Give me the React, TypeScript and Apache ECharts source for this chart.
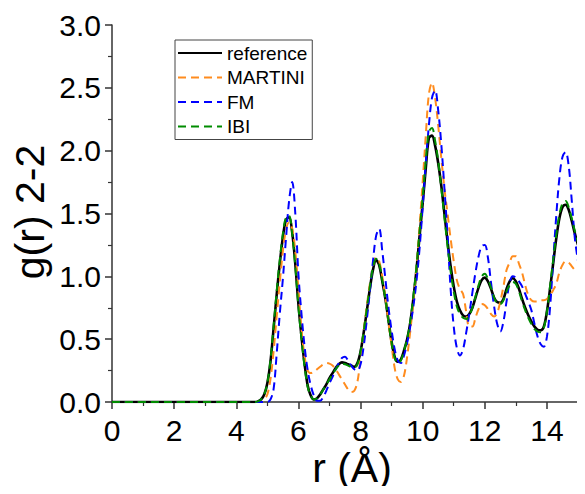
import React, { useEffect, useRef } from "react";
import * as echarts from "echarts";

// r grid: 0, then 4.5 .. 15.0 step 0.1
const rStart = 4.5;
const rGrid: number[] = Array.from({ length: 106 }, (_, i) => +(rStart + i * 0.1).toFixed(1));

const gReference = [
  0, 0, 0.005, 0.02, 0.06, 0.15, 0.32, 0.58, 0.85, 1.1,
  1.31, 1.45, 1.47, 1.35, 1.1, 0.78, 0.52, 0.3, 0.13, 0.05,
  0.02, 0.03, 0.06, 0.1, 0.14, 0.19, 0.23, 0.27, 0.3, 0.315,
  0.31, 0.3, 0.29, 0.28, 0.31, 0.4, 0.55, 0.72, 0.9, 1.05,
  1.13, 1.09, 0.96, 0.82, 0.65, 0.48, 0.36, 0.32, 0.34, 0.41,
  0.5, 0.63, 0.82, 1.05, 1.32, 1.58, 1.86, 2.1, 2.12, 2.04,
  1.9, 1.72, 1.5, 1.28, 1.08, 0.92, 0.8, 0.73, 0.69, 0.68,
  0.7, 0.75, 0.83, 0.91, 0.97, 0.99, 0.96, 0.9, 0.83, 0.795,
  0.79, 0.82, 0.9, 0.96, 0.985, 0.96, 0.9, 0.82, 0.75, 0.69,
  0.64, 0.6, 0.575, 0.57, 0.6, 0.72, 0.9, 1.1, 1.3, 1.46,
  1.55, 1.57, 1.53, 1.44, 1.34, 1.25,
];

const gMartini = [
  0, 0, 0, 0, 0.02, 0.06, 0.18, 0.4, 0.68, 0.95,
  1.2, 1.37, 1.43, 1.38, 1.2, 0.9, 0.58, 0.36, 0.25, 0.23,
  0.24, 0.26, 0.28, 0.3, 0.31, 0.305, 0.29, 0.26, 0.22, 0.18,
  0.14, 0.1, 0.08, 0.09, 0.16, 0.35, 0.56, 0.76, 0.94, 1.08,
  1.15, 1.12, 1.0, 0.83, 0.63, 0.45, 0.27, 0.18, 0.16, 0.21,
  0.36, 0.56, 0.8, 1.07, 1.4, 1.75, 2.12, 2.45, 2.54, 2.42,
  2.2, 1.94, 1.7, 1.5, 1.3, 1.12, 0.97, 0.9, 0.86, 0.72,
  0.6, 0.6, 0.67, 0.74, 0.78, 0.77, 0.74, 0.7, 0.68, 0.71,
  0.8, 0.92, 1.05, 1.11, 1.16, 1.16, 1.1, 1.03, 0.93, 0.85,
  0.81, 0.8, 0.8, 0.81, 0.81, 0.82, 0.85, 0.89, 0.94, 1.03,
  1.09, 1.12, 1.11, 1.08, 1.05, 1.03,
];

const gFM = [
  0, 0, 0, 0, 0, 0, 0.02, 0.1, 0.38, 0.7,
  0.98, 1.3, 1.6, 1.75, 1.5, 1.02, 0.7, 0.44, 0.25, 0.13,
  0.05, 0.01, 0.01, 0.04, 0.09, 0.15, 0.2, 0.26, 0.31, 0.35,
  0.36, 0.33, 0.29, 0.26, 0.25, 0.3, 0.44, 0.65, 0.88, 1.12,
  1.32, 1.38, 1.2, 0.98, 0.75, 0.57, 0.42, 0.33, 0.31, 0.37,
  0.47, 0.6, 0.76, 0.96, 1.22, 1.55, 1.9, 2.2, 2.42, 2.48,
  2.32, 2.05, 1.7, 1.33, 0.9, 0.6, 0.43, 0.37, 0.42, 0.55,
  0.7, 0.87, 1.03, 1.16, 1.24, 1.25, 1.15, 0.95, 0.76, 0.62,
  0.56, 0.64, 0.8, 0.95, 1.0, 0.99, 0.96, 0.92, 0.86, 0.8,
  0.73, 0.62, 0.52, 0.46, 0.44, 0.52, 0.75, 1.12, 1.48, 1.78,
  1.95, 1.99, 1.88, 1.6, 1.3, 1.12,
];

const gIBI = [
  0, 0, 0.005, 0.02, 0.06, 0.15, 0.33, 0.6, 0.88, 1.13,
  1.34, 1.47, 1.48, 1.34, 1.08, 0.76, 0.5, 0.28, 0.12, 0.05,
  0.02, 0.03, 0.06, 0.1, 0.14, 0.18, 0.22, 0.26, 0.29, 0.305,
  0.3, 0.29, 0.28, 0.275, 0.3, 0.4, 0.56, 0.74, 0.92, 1.07,
  1.14, 1.1, 0.97, 0.82, 0.64, 0.47, 0.35, 0.31, 0.33, 0.41,
  0.5, 0.64, 0.84, 1.08, 1.36, 1.63, 1.92, 2.15, 2.18, 2.08,
  1.92, 1.7, 1.47, 1.24, 1.04, 0.88, 0.76, 0.7, 0.67, 0.66,
  0.69, 0.75, 0.84, 0.93, 1.0, 1.02, 0.98, 0.91, 0.83, 0.785,
  0.78, 0.81, 0.88, 0.93, 0.955, 0.94, 0.88, 0.8, 0.73, 0.67,
  0.62, 0.58, 0.56, 0.555, 0.59, 0.72, 0.92, 1.13, 1.33, 1.49,
  1.58, 1.6, 1.55, 1.46, 1.36, 1.27,
];

const seriesNames = ["reference", "MARTINI", "FM", "IBI"];
const seriesColors = ["#000000", "#FF8C1E", "#0000FF", "#008C00"];
const xTickLabels = ["0", "2", "4", "6", "8", "10", "12", "14"];

const FONT = "'Liberation Sans', Arial, Helvetica, sans-serif";

function toPairs(vals: number[]): [number, number][] {
  const pts: [number, number][] = [[0, 0]];
  vals.forEach((v, i) => pts.push([rGrid[i], v]));
  return pts;
}

export default function App() {
  const ref = useRef<HTMLDivElement>(null);
  useEffect(() => {
    if (!ref.current) return;
    const chart = echarts.init(ref.current, undefined, { renderer: "svg" });
    const allVals = [gReference, gMartini, gFM, gIBI];
    const series = allVals.map((vals, i) => ({
      name: seriesNames[i],
      type: "line",
      data: toPairs(vals),
      showSymbol: false,
      symbol: "none",
      smooth: 0.35,
      lineStyle: {
        color: seriesColors[i],
        width: i === 0 ? 2.6 : 2,
        type: i === 0 ? "solid" : [8, 5],
      },
      itemStyle: { color: seriesColors[i] },
      z: i === 0 ? 2 : 3,
    }));
    chart.setOption({
      animation: false,
      backgroundColor: "#ffffff",
      grid: { left: 112, right: 7, top: 25, bottom: 92, containLabel: false },
      legend: {
        data: seriesNames,
        orient: "vertical",
        left: 175,
        top: 40,
        itemWidth: 44,
        itemHeight: 14,
        itemGap: 4.5,
        padding: [3, 5, 3, 2],
        borderColor: "#444",
        borderWidth: 1,
        itemStyle: { color: "rgba(0,0,0,0)", borderColor: "rgba(0,0,0,0)", borderWidth: 0 },
        textStyle: { fontSize: 19, fontFamily: FONT, color: "#000", lineHeight: 20 },
      },
      xAxis: {
        type: "value",
        min: 0,
        max: 15,
        interval: 2,
        splitLine: { show: false },
        axisLine: { show: true, onZero: false, lineStyle: { color: "#333", width: 1.5 } },
        axisTick: { show: true, inside: false, length: 7, lineStyle: { color: "#333", width: 1.5 } },
        minorTick: { show: true, splitNumber: 2, length: 4, lineStyle: { color: "#333", width: 1.2 } },
        axisLabel: {
          fontSize: 30,
          fontFamily: FONT,
          color: "#000",
          margin: 13,
          formatter: (v: number) => {
            const idx = Math.round(v / 2);
            return v % 2 === 0 && idx < xTickLabels.length ? xTickLabels[idx] : "";
          },
        },
      },
      yAxis: {
        type: "value",
        min: 0,
        max: 3,
        interval: 0.5,
        splitLine: { show: false },
        axisLine: { show: true, onZero: false, lineStyle: { color: "#333", width: 1.5 } },
        axisTick: { show: true, inside: false, length: 7, lineStyle: { color: "#333", width: 1.5 } },
        minorTick: { show: true, splitNumber: 2, length: 4, lineStyle: { color: "#333", width: 1.2 } },
        axisLabel: {
          fontSize: 30,
          fontFamily: FONT,
          color: "#000",
          margin: 11,
          formatter: (v: number) => v.toFixed(1),
        },
      },
      graphic: [
        {
          type: "text",
          x: 29.5,
          y: 212,
          rotation: Math.PI / 2,
          style: {
            text: "g(r) 2-2",
            fontSize: 41,
            fontFamily: FONT,
            fill: "#000",
            align: "center",
            verticalAlign: "middle",
          },
        },
        {
          type: "text",
          x: 352,
          y: 468,
          style: {
            text: "r (Å)",
            fontSize: 41,
            fontFamily: FONT,
            fill: "#000",
            align: "center",
            verticalAlign: "middle",
          },
        },
      ],
      series,
    });
    return () => chart.dispose();
  }, []);
  return <div ref={ref} style={{ width: 585, height: 494, margin: -8 }} />;
}
